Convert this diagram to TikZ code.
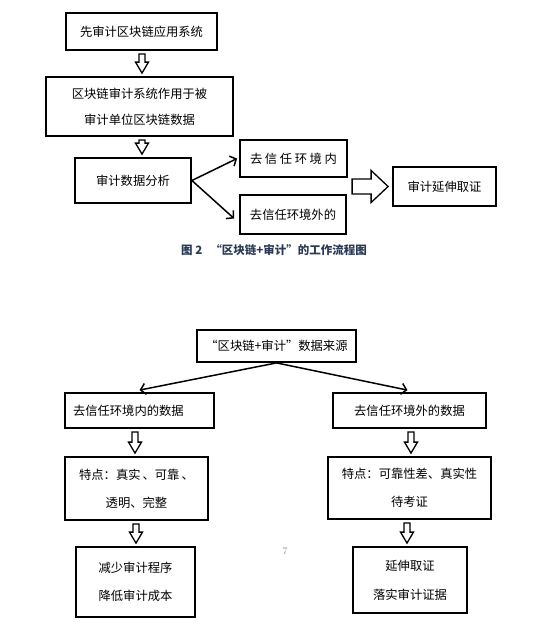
\documentclass[tikz,border=0pt]{standalone}
\usepackage{fontspec}
\newfontfamily\cjk{Noto Sans CJK SC}
\usetikzlibrary{arrows.meta,calc}
\definecolor{capc}{HTML}{2B3A55}
\definecolor{pgnum}{HTML}{8A8A8A}
\newcommand\harrow[3]{%
  \draw[hollow] let \p3=($(#1.south)+(#3,-3)$), \p4=($(#2.north)+(0,3)$) in
    (\x3-3pt,\y3) -- (\x3-3pt,\y4+11pt) -- (\x3-6.5pt,\y4+11pt) -- (\x3,\y4)
    -- (\x3+6.5pt,\y4+11pt) -- (\x3+3pt,\y4+11pt) -- (\x3+3pt,\y3) -- cycle;}
\begin{document}
\begin{tikzpicture}[x=1pt,y=1pt,
  box/.style={draw,line width=1.8pt,inner sep=0pt,align=center,
    font=\cjk\fontsize{12.3}{27}\selectfont},
  fork/.style={line width=1.5pt,-{Straight Barb[length=5pt,width=11pt,line width=1.5pt]}},
  hollow/.style={draw,line width=1.3pt,line join=miter}]
\useasboundingbox (0,0) rectangle (544,-632);
\fill[white] (0,0) rectangle (544,-632);
% upper diagram
\node[box,minimum width=151pt,minimum height=37pt] (b1) at (141.5,-31.5) {先审计区块链应用系统};
\node[box,minimum width=187pt,minimum height=59pt,font=\cjk\fontsize{12.3}{26}\selectfont] (b2) at (139.5,-106.5) {区块链审计系统作用于被\\审计单位区块链数据};
\node[box,minimum width=116pt,minimum height=45pt] (b3) at (133,-180.5) {审计数据分析};
\node[box,minimum width=107pt,minimum height=37pt] (b4) at (293.5,-158.5) {去\hspace{2.6pt}信\hspace{2.6pt}任\hspace{2.6pt}环\hspace{2.6pt}境\hspace{2.6pt}内};
\node[box,minimum width=106pt,minimum height=39pt] (b5) at (293,-214.5) {去信任环境外的};
\node[box,minimum width=103pt,minimum height=39pt] (b6) at (444.5,-186.5) {审计延伸取证};
\harrow{b1}{b2}{0.5}
\harrow{b2}{b3}{2.5}
\draw[fork] (b3.east) -- ($(b4.west)+(-2,0)$);
\draw[fork] (b3.east) -- ($(b5.west)+(-5,-4)$);
\draw[hollow] let \p1=(b6.west) in
  (\x1-40pt,\y1+7.5pt) -- (\x1-21pt,\y1+7.5pt) -- (\x1-21pt,\y1+16pt) -- (\x1-4pt,\y1)
  -- (\x1-21pt,\y1-16pt) -- (\x1-21pt,\y1-7.5pt) -- (\x1-40pt,\y1-7.5pt) -- cycle;
\node[font=\cjk\bfseries\fontsize{11.5}{13}\selectfont,text=capc] (cap) at (274,-250) {图 2 \ \ “区块链+审计”的工作流程图};
% lower diagram
\node[box,minimum width=159pt,minimum height=32pt] (b7) at (276.5,-346) {“区块链+审计”数据来源};
\node[box,text width=133pt,align=left,inner xsep=8pt,minimum height=35pt] (b8) at (139.5,-410.5) {去信任环境内的数据};
\node[box,minimum width=153pt,minimum height=35pt] (b9) at (409.5,-410.5) {去信任环境外的数据};
\node[box,minimum width=143pt,minimum height=63pt,font=\cjk\fontsize{12.3}{28}\selectfont] (b10) at (136.5,-488.5) {特点：真实\,、可靠\,、\\透明、完整};
\node[box,minimum width=119pt,minimum height=70pt,font=\cjk\fontsize{12.3}{28}\selectfont] (b11) at (135.5,-582) {减少审计程序\\降低审计成本};
\node[box,minimum width=163pt,minimum height=62pt,font=\cjk\fontsize{12.3}{28}\selectfont] (b12) at (409.5,-488) {特点：可靠性差、真实性\\待考证};
\node[box,minimum width=114pt,minimum height=66pt,font=\cjk\fontsize{12.3}{29}\selectfont] (b13) at (410,-580) {延伸取证\\落实审计证据};
\draw[fork] (b7.south) -- ($(b8.north)+(0,2)$);
\draw[fork] (b7.south) -- ($(b9.north)+(-2,2)$);
\harrow{b8}{b10}{-4.5}
\harrow{b10}{b11}{-0.5}
\harrow{b9}{b12}{1.5}
\harrow{b12}{b13}{-2.5}
\node[font=\fontsize{10}{12}\selectfont,text=pgnum] (pg) at (285,-551) {7};
\end{tikzpicture}
\end{document}
